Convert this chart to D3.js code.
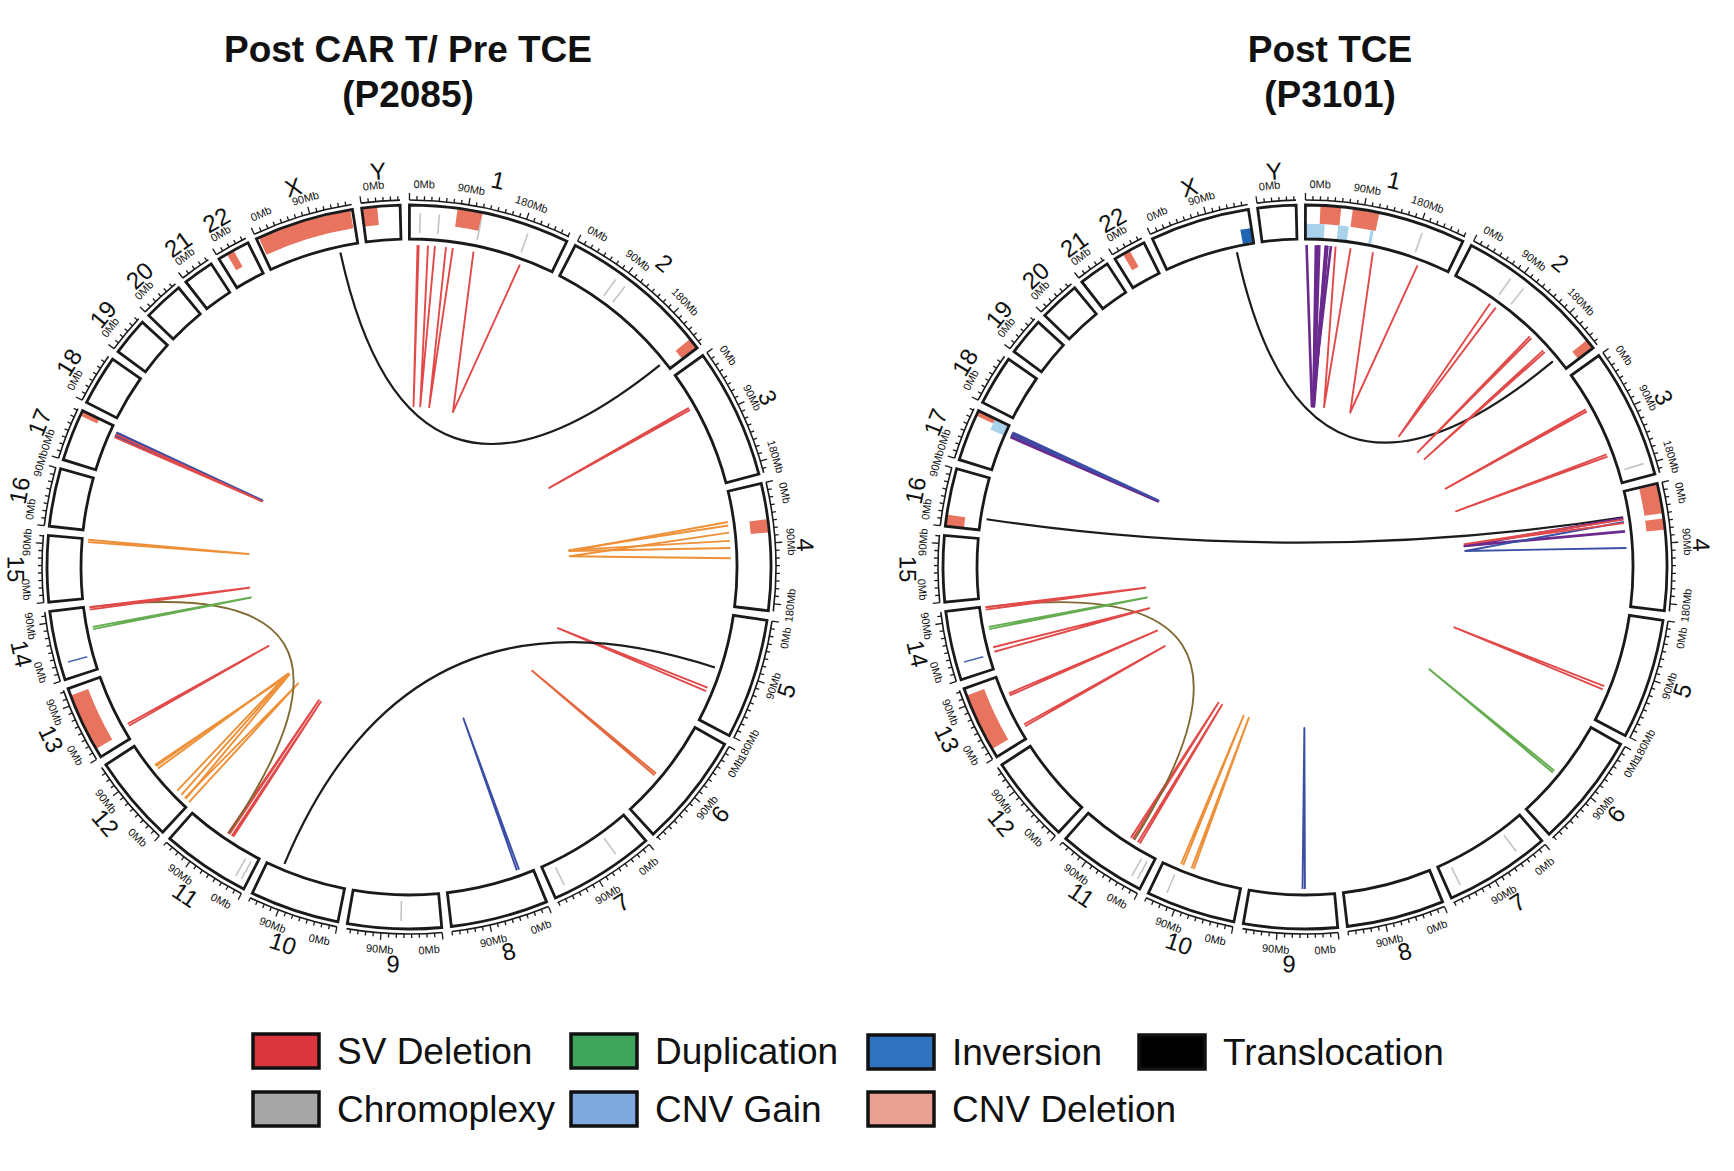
<!DOCTYPE html>
<html>
<head>
<meta charset="utf-8">
<script src="https://cdn.jsdelivr.net/npm/d3@7"></script>
<style>
body { margin: 0; background: #fff; }
text { font-family: "Liberation Sans", Arial, Helvetica, sans-serif; fill: #111; }
</style>
</head>
<body>
<svg id="chart" width="1734" height="1171"></svg>
<script>
// chromosomes (hg19 lengths, Mb)
var chromNames = ["1","2","3","4","5","6","7","8","9","10","11","12","13","14","15","16","17","18","19","20","21","22","X","Y"];
var chromSizes = [249.25,243.2,198.0,191.2,180.9,171.1,159.1,146.4,141.2,135.5,135.0,133.9,115.2,107.3,102.5,90.4,81.2,78.1,59.1,63.0,48.1,51.3,155.3,59.4];
var tickLabels = [0, 90, 180];

// Post CAR T / Pre TCE (P2085)
var leftCnv = [
	["1",74,113,"del"], ["2",226,243,"del"], ["4",54,74,"del"], ["13",14,104,"del"],
	["17",73,81,"del"], ["22",14,26,"del"], ["X",4,152,"del"], ["Y",1,24,"del"]
];
var leftMarks = [
	["1",17,"cpx"], ["1",47,"cpx"], ["1",113,"cpx"], ["1",189,"cpx"], ["2",80,"cpx"], ["2",98,"cpx"],
	["7",48,"cpx"], ["7",139,"cpx"], ["9",61,"cpx"], ["11",10,"cpx"], ["11",20,"cpx"], ["14",25,"inv"]
];
var leftLinks = [
	["1",14,"1",16,"del"], ["1",32,"1",44,"del"], ["1",63,"1",75,"del"], ["1",111,"1",194,"del"],
	["X",123,"2",228,"tra"],
	["3",58,"3",62,"del"],
	["4",50,"4",94,"ora"], ["4",56,"4",82,"ora"], ["4",68,"4",111,"ora"],
	["5",127,"5",133,"del"],
	["6",99,"6",103,"ord"],
	["10",108,"5",91,"tra"],
	["8",22,"8",26,"inv"],
	["11",56,"11",59,"del"], ["11",64,"11",67,"del"],
	["12",10,"12",88,"ora"], ["12",20,"12",85,"ora"], ["12",30,"12",80,"ora"], ["12",2,"12",12,"ora"],
	["14",106,"11",66,"olv"],
	["13",20,"13",24,"del"],
	["14",68,"14",72,"dup"],
	["14",102,"14",106,"del"],
	["15",97,"15",101,"ora"],
	["17",66,"17",71,"inv"], ["17",68,"17",73,"inv"], ["17",64,"17",69,"del"]
];

// Post TCE (P3101)
var rightCnv = [
	["1",23,55,"del"], ["1",73,114,"del"], ["1",0,31,"gain"], ["1",53,70,"gain"], ["1",106,111,"gain"],
	["2",228,243,"del"], ["4",2,45,"del"], ["4",53,70,"del"], ["13",14,104,"del"], ["16",0,18,"del"],
	["17",73,81,"del"], ["17",62,81,"gain"], ["22",14,26,"del"], ["X",137,155,"amp"]
];
var rightMarks = [
	["1",186,"cpx"], ["2",78,"cpx"], ["2",103,"cpx"], ["3",178,"cpx"], ["7",40,"cpx"], ["7",139,"cpx"],
	["10",110,"cpx"], ["11",10,"cpx"], ["11",20,"cpx"], ["14",25,"inv"]
];
var rightLinks = [
	["1",2,"1",44,"pur"], ["1",18,"1",38,"pur"], ["1",20,"1",36,"pur"], ["1",22,"1",35,"pur"], ["1",24,"1",37,"pur"],
	["1",52,"1",78,"del"], ["1",117,"1",197,"del"],
	["X",124,"2",220,"tra"],
	["16",20,"4",42,"tra"],
	["4",44,"4",66,"pur"], ["4",50,"4",94,"inv"], ["4",46,"4",52,"del"],
	["2",74,"2",86,"del"], ["2",162,"2",166,"del"], ["2",195,"2",199,"del"],
	["3",61,"3",65,"del"], ["3",145,"3",149,"del"],
	["5",124,"5",130,"del"],
	["6",93,"6",97,"dup"],
	["9",49,"9",53,"inv"],
	["10",84,"10",88,"ora"], ["10",103,"10",107,"ora"],
	["11",35,"11",39,"del"], ["11",49,"11",53,"del"],
	["14",106,"11",46,"olv"],
	["14",102,"14",106,"del"], ["14",68,"14",72,"dup"], ["14",28,"14",36,"del"],
	["13",78,"13",82,"del"], ["13",19,"13",23,"del"],
	["17",66,"17",71,"inv"], ["17",64,"17",69,"pur"], ["17",68,"17",73,"inv"]
];

var legendNames = ["SV Deletion","Duplication","Inversion","Translocation","Chromoplexy","CNV Gain","CNV Deletion"];
var legendColors = ["#d9363e","#3ea55a","#2f72bd","#000000","#a6a6a6","#7fa9dc","#e9a092"];

var linkColor = {del:"#e24a4a", ora:"#ee9038", ord:"#e4683e", dup:"#66ad52", inv:"#3a4ea6",
	pur:"#6a2a8e", tra:"#1c1c1c", olv:"#7f6a34"};
var cnvColor = {del:"#e8735f", gain:"#a8d1ec", amp:"#1f64b3"};

var R_IN = 328, R_OUT = 362, R_AXIS = 367, R_LINK = 322, R_NAME = 397;
var GAP = 1.5, START = -0.3;
var degPerMb = (360 - GAP * chromNames.length) / d3.sum(chromSizes);

// the printed figure is slightly skewed: a small smooth angular warp
function warp(d) { return d + 1.25 * (1 - Math.cos((d - 45) * Math.PI / 180)); }

// one scale per chromosome: Mb -> degrees clockwise from 12 o'clock
var chromScale = {};
var acc = START;
chromNames.forEach(function (c, i) {
	var span = chromSizes[i] * degPerMb;
	chromScale[c] = d3.scaleLinear().domain([0, chromSizes[i]]).range([warp(acc), warp(acc + span)]);
	acc += span + GAP;
});

var svg = d3.select("#chart");

function rad(d) { return d * Math.PI / 180; }
function pt(r, deg) { return [r * Math.sin(rad(deg)), -r * Math.cos(rad(deg))]; }

function bentText(g, r, deg, str, size, anchorStart) {
	var p = pt(r, deg);
	var flip = deg > 90 && deg < 270;
	var rot = flip ? deg - 180 : deg;
	var anchor = anchorStart ? (flip ? "end" : "start") : "middle";
	g.append("text")
	.attr("transform", "translate(" + p[0] + "," + p[1] + ") rotate(" + rot + ")")
	.attr("text-anchor", anchor)
	.attr("dominant-baseline", "central")
	.style("font-size", size + "px")
	.text(str);
}

function drawCircos(cx, cy, cnv, marks, links) {
	var g = svg.append("g").attr("transform", "translate(" + cx + "," + cy + ")");
	var boxArc = d3.arc().innerRadius(R_IN).outerRadius(R_OUT);
	var cnvMid = R_IN + 0.45 * (R_OUT - R_IN);

	// chromosome boxes (fill)
	chromNames.forEach(function (c) {
		var d = chromScale[c].range();
		g.append("path")
		.attr("d", boxArc({startAngle: rad(d[0]), endAngle: rad(d[1])}))
		.style("fill", "#fff");
	});

	// CNV segments
	cnv.forEach(function (s) {
		var sc = chromScale[s[0]];
		var inner = s[3] == "del" ? cnvMid : R_IN + 1;
		var outer = s[3] == "del" ? R_OUT - 1 : cnvMid;
		g.append("path")
		.attr("d", d3.arc().innerRadius(inner).outerRadius(outer)
			({startAngle: rad(sc(s[1])), endAngle: rad(sc(s[2]))}))
		.style("fill", cnvColor[s[3]]);
	});

	// small marks inside the ring
	marks.forEach(function (m) {
		var a = chromScale[m[0]](m[1]);
		var p0 = pt(R_IN + 6, a), p1 = pt(R_OUT - 8, a);
		g.append("line")
		.attr("x1", p0[0]).attr("y1", p0[1]).attr("x2", p1[0]).attr("y2", p1[1])
		.style("stroke", m[2] == "inv" ? "#4a67b0" : "#c4c4c4")
		.style("stroke-width", 1.6);
	});

	// chromosome boxes (outline), axis, ticks, labels
	chromNames.forEach(function (c, i) {
		var sc = chromScale[c];
		var d = sc.range();
		g.append("path")
		.attr("d", boxArc({startAngle: rad(d[0]), endAngle: rad(d[1])}))
		.style("fill", "none")
		.style("stroke", "#1a1a1a")
		.style("stroke-width", 2.8);

		var axis = d3.path();
		axis.arc(0, 0, R_AXIS, rad(d[0] - 90), rad(d[1] - 90));
		g.append("path")
		.attr("d", axis.toString())
		.style("fill", "none")
		.style("stroke", "#1a1a1a")
		.style("stroke-width", 1.6);

		d3.range(0, chromSizes[i] + 1e-6, 11.25).forEach(function (v, k) {
			var a = sc(v);
			var len = (k % 8 == 0) ? 7 : 4;
			var p0 = pt(R_AXIS, a), p1 = pt(R_AXIS + len, a);
			g.append("line")
			.attr("x1", p0[0]).attr("y1", p0[1]).attr("x2", p1[0]).attr("y2", p1[1])
			.style("stroke", "#1a1a1a")
			.style("stroke-width", 1.3);
		});

		tickLabels.forEach(function (v) {
			if (v > chromSizes[i]) return;
			var a = v == 0 ? sc(v) + 0.6 : sc(v);
			bentText(g, R_AXIS + 16, a, v + "Mb", 11, v == 0);
		});

		// keep the name inside the page on the far left
		var mid = sc(chromSizes[i] / 2);
		var sx = -Math.sin(rad(mid));
		var rName = sx > 0 ? Math.min(R_NAME, (cx - 16) / sx) : R_NAME;
		bentText(g, rName, mid, c, 24, false);
	});

	// links: same-chromosome events as a V to half radius, others as curves through the centre
	links.forEach(function (l) {
		var a0 = chromScale[l[0]](l[1]);
		var a1 = chromScale[l[2]](l[3]);
		var p0 = pt(R_LINK, a0);
		var p1 = pt(R_LINK, a1);
		var path = d3.path();
		path.moveTo(p0[0], p0[1]);
		if (l[0] == l[2]) {
			var tip = pt(R_LINK * 0.5, (a0 + a1) / 2);
			path.lineTo(tip[0], tip[1]);
			path.lineTo(p1[0], p1[1]);
		} else {
			path.quadraticCurveTo(0, 0, p1[0], p1[1]);
		}
		g.append("path")
		.attr("d", path.toString())
		.style("fill", "none")
		.style("stroke", linkColor[l[4]])
		.style("stroke-linejoin", "round")
		.style("stroke-width", l[4] == "pur" ? 2.6 : (l[4] == "tra" ? 2.2 : 1.9));
	});
}

drawCircos(409, 567, leftCnv, leftMarks, leftLinks);
drawCircos(1305, 567, rightCnv, rightMarks, rightLinks);

// titles
[[408, ["Post CAR T/ Pre TCE", "(P2085)"]], [1330, ["Post TCE", "(P3101)"]]].forEach(function (t) {
	t[1].forEach(function (line, j) {
		svg.append("text")
		.attr("x", t[0])
		.attr("y", 62 + j * 45)
		.attr("text-anchor", "middle")
		.style("font-size", "37px")
		.style("font-weight", "bold")
		.text(line);
	});
});

// legend
var legendX = [253, 571, 868, 1139, 253, 571, 868];
var legendY = [1034, 1034, 1035, 1035, 1092, 1092, 1092];
legendNames.forEach(function (name, i) {
	svg.append("rect")
	.attr("x", legendX[i]).attr("y", legendY[i])
	.attr("width", 66).attr("height", 34)
	.style("fill", legendColors[i])
	.style("stroke", "#111")
	.style("stroke-width", 3.5);
	svg.append("text")
	.attr("x", legendX[i] + 84)
	.attr("y", legendY[i] + 30)
	.style("font-size", "37px")
	.text(name);
});
</script>
</body>
</html>
